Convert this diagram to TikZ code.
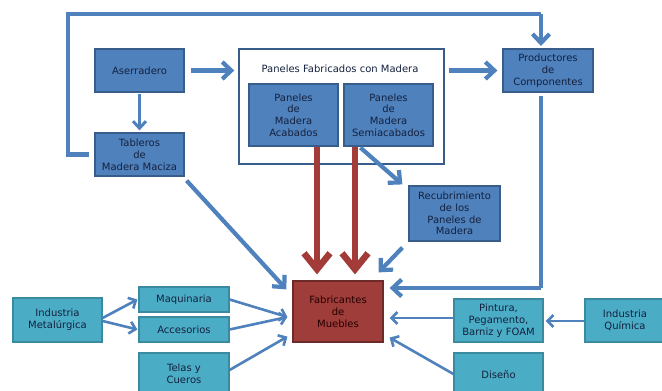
\documentclass[tikz,border=0pt]{standalone}
\usepackage{fontspec}
\setmainfont{DejaVu Sans}
\usetikzlibrary{arrows.meta}
\definecolor{bfill}{HTML}{4F81BD}
\definecolor{bdraw}{HTML}{385D8A}
\definecolor{tfill}{HTML}{4BACC6}
\definecolor{tdraw}{HTML}{3A8AA0}
\definecolor{rfill}{HTML}{9E3D3A}
\definecolor{rdraw}{HTML}{6E2A28}
\definecolor{arrb}{HTML}{4F81BD}
\definecolor{arrr}{HTML}{A33B38}
\definecolor{txt}{HTML}{14213D}
\tikzset{
  base/.style={rectangle, draw, line width=1.2pt, align=center, text=txt,
    font=\fontsize{10}{11.8}\selectfont, inner sep=1pt},
  bluebox/.style={base, fill=bfill, draw=bdraw},
  tealbox/.style={base, fill=tfill, draw=tdraw},
  redbox/.style={base, fill=rfill, draw=rdraw, text=black!85!red},
  whitebox/.style={rectangle, draw=bdraw, line width=1.4pt, fill=white},
  bigarr/.style={draw=arrb, line width=4.2pt, -{Straight Barb[length=9pt,width=17pt]}},
  midarr/.style={draw=arrb, line width=3pt, -{Straight Barb[length=7pt,width=13pt]}},
  smallarr/.style={draw=arrb, line width=2.6pt, -{Straight Barb[length=6pt,width=12pt]}},
  redarr/.style={draw=arrr, line width=6.5pt, -{Straight Barb[length=16pt,width=26pt]}},
}
\begin{document}
\begin{tikzpicture}[x=1pt,y=-1pt]
\useasboundingbox (0,0) rectangle (662,391);
\clip (0,0) rectangle (662,391);
% boxes
\node[whitebox, minimum width=205pt, minimum height=115pt] (pan) at (341.5,106.5) {};
\node[text=txt, font=\fontsize{10}{11.8}\selectfont] (pantit) at (340,69) {Paneles Fabricados con Madera};
\node[bluebox, minimum width=89pt, minimum height=43pt] (aser) at (139.5,70.5) {Aserradero};
\node[bluebox, minimum width=89pt, minimum height=43pt] (tab) at (139.5,154.5) {Tableros\\de\\Madera Maciza};
\node[bluebox, minimum width=89pt, minimum height=62pt] (acab) at (293.5,115) {Paneles\\de\\Madera\\Acabados};
\node[bluebox, minimum width=89pt, minimum height=62pt] (semi) at (388.5,115) {Paneles\\de\\Madera\\Semiacabados};
\node[bluebox, minimum width=90pt, minimum height=43pt] (prod) at (548,70.5) {Productores\\de\\Componentes};
\node[bluebox, minimum width=91pt, minimum height=55pt] (recub) at (454.5,213.5) {Recubrimiento\\de los\\Paneles de\\Madera};
\node[redbox, minimum width=90pt, minimum height=61pt] (fab) at (338,311.5) {Fabricantes\\de\\Muebles};
\node[tealbox, minimum width=89pt, minimum height=44pt] (ind) at (57.5,320) {Industria\\Metalúrgica};
\node[tealbox, minimum width=90pt, minimum height=25pt] (maq) at (184,299.5) {Maquinaria};
\node[tealbox, minimum width=90pt, minimum height=25pt] (acc) at (184,329.5) {Accesorios};
\node[tealbox, minimum width=90pt, minimum height=42pt] (telas) at (184,374) {Telas y\\Cueros};
\node[tealbox, minimum width=89pt, minimum height=43pt] (pint) at (498.5,320.5) {Pintura,\\Pegamento,\\Barniz y FOAM};
\node[tealbox, minimum width=80pt, minimum height=43pt] (quim) at (625,320.5) {Industria\\Química};
\node[tealbox, minimum width=89pt, minimum height=44pt] (dis) at (498.5,375) {Diseño};
% coordinates
\coordinate (looptop) at (541,14);
\coordinate (loopleft) at (68,14);
\coordinate (prodin) at (541,46);
\coordinate (prodout) at (541,96);
\coordinate (prodcorner) at (541,288);
% connectors
\draw[bigarr, shorten <=5pt, -] (tab.west) -- (tab.west -| loopleft) -- (loopleft) -- (looptop);
\draw[bigarr] (looptop) -- (prodin);
\draw[bigarr, shorten <=6pt, shorten >=4pt] (aser.east) -- (aser.east -| pan.west);
\draw[bigarr, shorten <=4pt, shorten >=5pt] (pan.east |- prod.west) -- (prod.west);
\draw[midarr, shorten <=1pt, shorten >=2pt] (aser.south) -- (tab.north);
\draw[bigarr] ([shift={(2,4)}]tab.south east) -- ([shift={(-6,9)}]fab.north west);
\draw[redarr] ([shift={(23.5,0)}]acab.south) -- ([shift={(-21,-6)}]fab.north);
\draw[redarr] ([shift={(-33.5,0)}]semi.south) -- ([shift={(17,-6)}]fab.north);
\draw[bigarr] ([shift={(17,1)}]semi.south west) -- ([shift={(-6,-1)}]recub.north west);
\draw[bigarr] ([shift={(-6,6)}]recub.south west) -- ([shift={(-5,-8)}]fab.north east);
\draw[bigarr, -] (prodout) -- (prodcorner);
\draw[bigarr] (prodcorner) -- ([shift={(6,0)}]fab.east |- prodcorner);
\draw[smallarr] ([shift={(0,-2)}]ind.east) -- ([shift={(-1,0)}]maq.west);
\draw[smallarr] ([shift={(0,1)}]ind.east) -- ([shift={(-1,0)}]acc.west);
\draw[smallarr] (maq.east) -- ([shift={(-5,5.5)}]fab.west);
\draw[smallarr] (acc.east) -- ([shift={(-5,5.5)}]fab.west);
\draw[smallarr] ([shift={(0,-4)}]telas.east) -- ([shift={(-5,-6)}]fab.south west);
\draw[smallarr] ([shift={(0,-2.5)}]pint.west) -- ([shift={(6,6.5)}]fab.east);
\draw[smallarr] ([shift={(0,0.5)}]quim.west) -- ([shift={(2,0.5)}]pint.east);
\draw[smallarr] ([shift={(0,-1)}]dis.west) -- ([shift={(6,-5)}]fab.south east);
\end{tikzpicture}
\end{document}
